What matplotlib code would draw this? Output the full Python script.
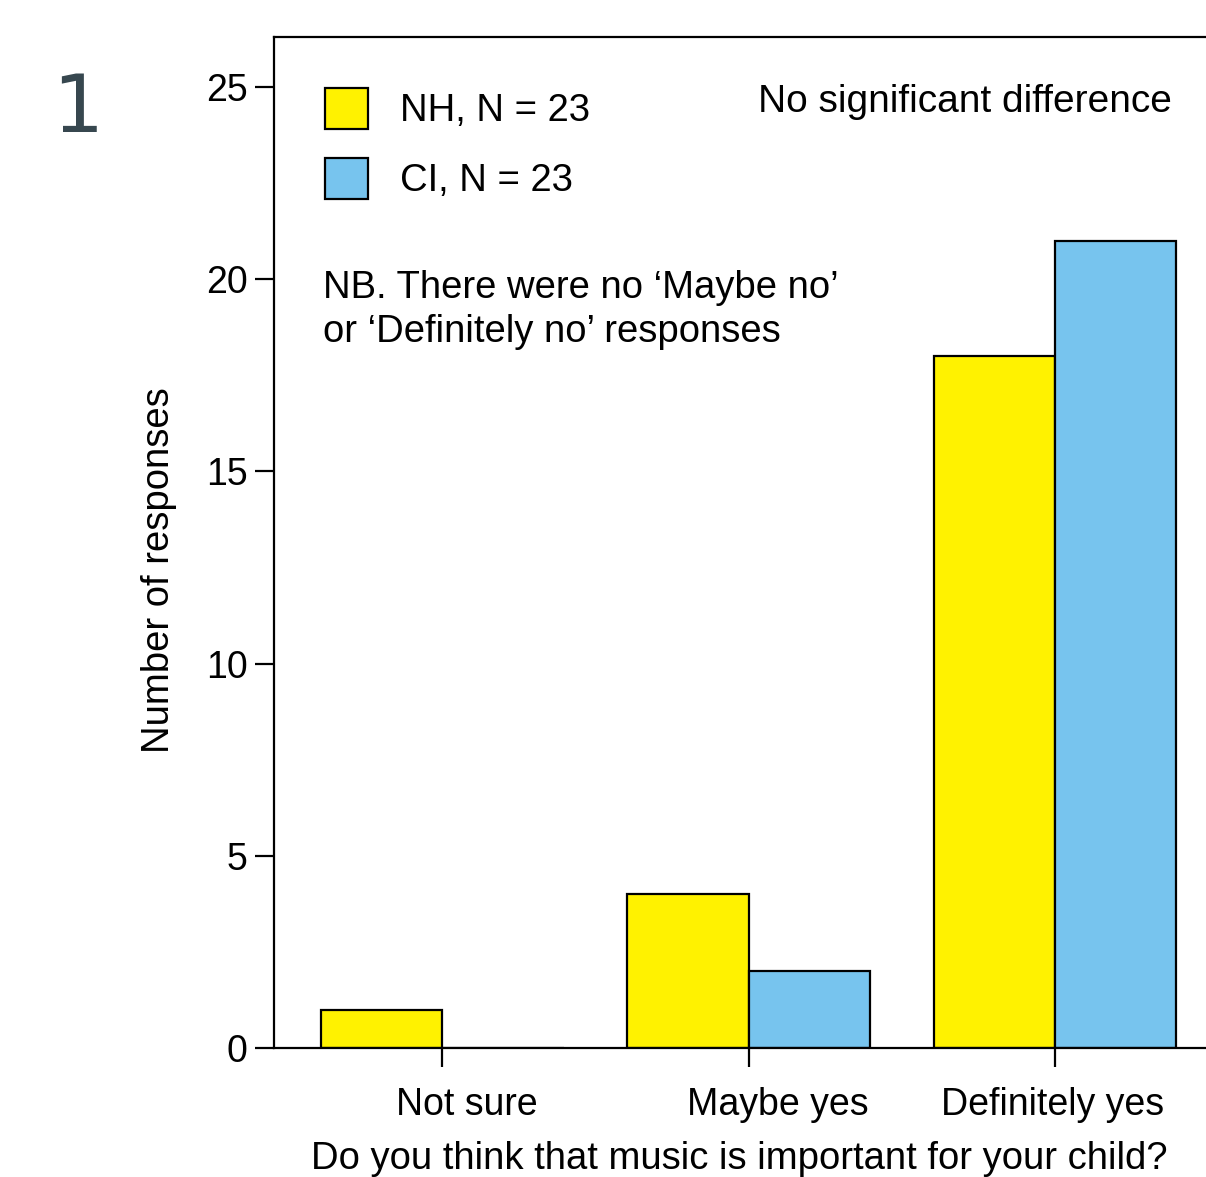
import numpy as np
import matplotlib.pyplot as plt
import matplotlib.transforms as mtransforms

# data
categories = ['Not sure', 'Maybe yes', 'Definitely yes']
nh_counts = [1, 4, 18]
ci_counts = [0, 2, 21]
nh_label = 'NH, N = 23'
ci_label = 'CI, N = 23'

plt.rcParams['font.family'] = ['Liberation Sans', 'DejaVu Sans']

fig = plt.figure(figsize=(12.06, 11.77), dpi=100)
ax = fig.add_axes([0.2272, 0.1096, 0.80, 0.859])

x = np.arange(len(categories))
w = 0.396
b1 = ax.bar(x - w, nh_counts, w, align='edge', color='#FFF200', edgecolor='black', linewidth=1.6, label=nh_label)
b2 = ax.bar(x, ci_counts, w, align='edge', color='#77C4EE', edgecolor='black', linewidth=1.6, label=ci_label)

ax.set_xlim(-0.55, 2.6)
ax.set_ylim(0, 26.3)
ax.set_yticks([0, 5, 10, 15, 20, 25])
ax.set_xticks(x)
ax.set_xticklabels(categories)
ax.tick_params(axis='both', labelsize=27, length=14, width=1.6, pad=5)
ax.tick_params(axis='x', pad=14)

# tick labels sit slightly off the ticks in the original
offsets = [24, 29, -2]
for lab, dx in zip(ax.get_xticklabels(), offsets):
    lab.set_transform(lab.get_transform() + mtransforms.ScaledTranslation(dx / 100, 0, fig.dpi_scale_trans))

for s in ax.spines.values():
    s.set_linewidth(1.6)

ax.set_ylabel('Number of responses', fontsize=27.5)
ax.yaxis.set_label_coords(-0.101, 0.473)
ax.set_xlabel('Do you think that music is important for your child?', fontsize=27.5)
ax.xaxis.set_label_coords(0.482, -0.092)

ax.legend(handles=[b1, b2], loc='upper left', bbox_to_anchor=(0.053, 0.950), frameon=False,
          fontsize=27.5, handlelength=1.12, handleheight=1.3, handletextpad=0.85,
          labelspacing=0.75, borderpad=0, borderaxespad=0)

ax.text(2.383, 24.6, 'No significant difference', fontsize=28, ha='right', va='center')
ax.text(-0.39, 20.25, 'NB. There were no \u2018Maybe no\u2019\nor \u2018Definitely no\u2019 responses',
        fontsize=27.5, ha='left', va='top', linespacing=1.3)

fig.text(78 / 1206, 1 - 110 / 1177, '1', fontsize=58, color='#37474f', ha='center', va='center',
         family='DejaVu Sans')

plt.savefig('out.png', dpi=100)
